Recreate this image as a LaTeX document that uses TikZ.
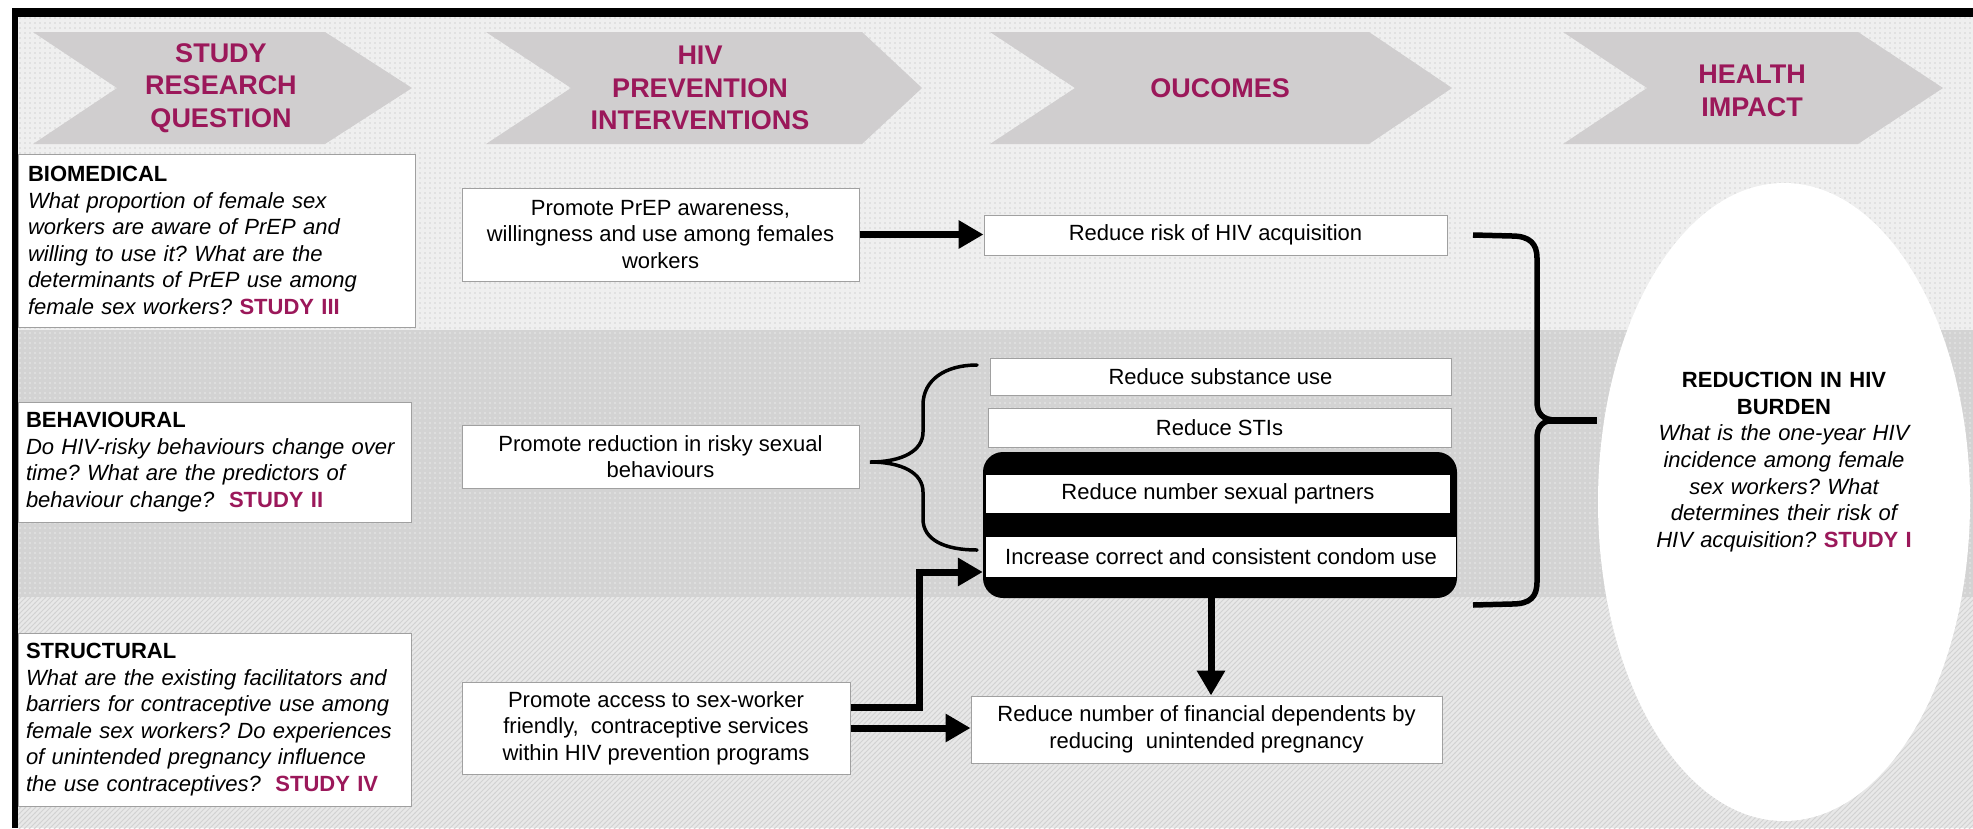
\documentclass[tikz,border=0pt]{standalone}
\usepackage{fontspec}
\setmainfont{Liberation Sans}
\usetikzlibrary{arrows.meta,shapes.geometric,patterns}
\frenchspacing

\definecolor{plum}{RGB}{155,24,90}
\definecolor{chevgray}{RGB}{208,206,207}
\definecolor{boxline}{RGB}{160,160,160}
\definecolor{topbase}{RGB}{239,239,239}
\definecolor{topdot}{RGB}{212,212,212}
\definecolor{midbase}{RGB}{211,211,211}
\definecolor{middot}{RGB}{234,234,234}
\definecolor{lowbase}{RGB}{232,232,232}
\definecolor{lowline}{RGB}{210,210,210}

% background textures
\pgfdeclarepatternformonly{fine dots}{\pgfqpoint{-1pt}{-1pt}}{\pgfqpoint{1pt}{1pt}}{\pgfqpoint{5pt}{5pt}}%
  {\pgfpathcircle{\pgfqpoint{0pt}{0pt}}{0.8pt}\pgfusepath{fill}}
\pgfdeclarepatternformonly{fine hatch}{\pgfqpoint{-1pt}{-1pt}}{\pgfqpoint{6pt}{6pt}}{\pgfqpoint{5pt}{5pt}}%
  {\pgfsetlinewidth{0.9pt}\pgfpathmoveto{\pgfqpoint{-0.5pt}{-0.5pt}}\pgfpathlineto{\pgfqpoint{5.5pt}{5.5pt}}\pgfusepath{stroke}}

\begin{document}
\begin{tikzpicture}[x=1pt,y=-1pt,
  chev/.style={fill=chevgray},
  chevtext/.style={text=plum, font=\fontsize{27}{32.5}\selectfont\bfseries, align=center, inner sep=0pt},
  qbox/.style={draw=boxline, fill=white, line width=1pt, inner sep=0pt, text width=377pt, align=left,
    font=\fontsize{22}{26.6}\selectfont},
  ibox/.style={draw=boxline, fill=white, line width=1pt, inner sep=0pt, align=center,
    font=\fontsize{22}{26.6}\selectfont},
  band/.style={fill=white, inner sep=0pt, font=\fontsize{22}{26.6}\selectfont},
  fat/.style={line width=7pt, -{Triangle[length=25pt,width=27pt]}},
  brace/.style={line width=3.5pt, line cap=round},
  bigbrace/.style={line width=5.5pt}]
\useasboundingbox (0,0) rectangle (1973,828);

% row bands
\fill[topbase] (18,17) rectangle (1973,330);
\fill[pattern=fine dots, pattern color=topdot] (18,17) rectangle (1973,330);
\fill[midbase] (18,330) rectangle (1973,597);
\fill[pattern=fine dots, pattern color=middot] (18,330) rectangle (1973,597);
\fill[lowbase] (18,597) rectangle (1973,828);
\fill[pattern=fine hatch, pattern color=lowline] (18,597) rectangle (1973,828);

% frame
\fill[black] (12,8) rectangle (1973,17);
\fill[black] (12,8) rectangle (18,828);

% column headers
\fill[chev] (33,32) -- (325,32) -- (412,88) -- (325,144) -- (33,144) -- (117,88) -- cycle;
\fill[chev] (486,32) -- (862,32) -- (922,88) -- (862,144) -- (486,144) -- (571,88) -- cycle;
\fill[chev] (990,32) -- (1369,32) -- (1452,88) -- (1369,144) -- (990,144) -- (1075,88) -- cycle;
\fill[chev] (1563,32) -- (1858,32) -- (1943,88) -- (1858,144) -- (1563,144) -- (1647,88) -- cycle;
\node[chevtext] (h1) at (221,88) {STUDY\\RESEARCH\\QUESTION};
\node[chevtext] (h2) at (700,88) {HIV\\PREVENTION\\INTERVENTIONS};
\node[chevtext] (h3) at (1220,88) {OUCOMES};
\node[chevtext] (h4) at (1752,91) {HEALTH\\IMPACT};

% research questions
\node[qbox, minimum width=397, minimum height=173] (bio) at (216.5,240.5)
  {\textbf{BIOMEDICAL}\\\itshape What proportion of female sex\\ workers are aware of PrEP and\\
   willing to use it? What are the\\ determinants of PrEP use among\\
   female sex workers? \textcolor{plum}{\upshape\bfseries STUDY III}};
\node[qbox, minimum width=393, minimum height=120] (beh) at (214.5,462)
  {\textbf{BEHAVIOURAL}\\\itshape Do HIV-risky behaviours change over\\ time? What are the predictors of\\
   behaviour change? \ \textcolor{plum}{\upshape\bfseries STUDY II}};
\node[qbox, minimum width=393, minimum height=173] (str) at (214.5,719.5)
  {\textbf{STRUCTURAL}\\\itshape What are the existing facilitators and\\ barriers for contraceptive use among\\
   female sex workers? Do experiences\\ of unintended pregnancy influence\\
   the use contraceptives? \ \textcolor{plum}{\upshape\bfseries STUDY IV}};

% interventions
\node[ibox, minimum width=397, minimum height=93] (prep) at (660.5,234.5)
  {Promote PrEP awareness,\\willingness and use among females\\workers};
\node[ibox, minimum width=397, minimum height=63] (risky) at (660.5,456.5)
  {Promote reduction in risky sexual\\behaviours};
\node[ibox, minimum width=388, minimum height=92] (sint) at (656,728)
  {Promote access to sex-worker\\friendly, \ contraceptive services\\within HIV prevention programs};

% outcomes
\node[ibox, minimum width=463, minimum height=40] (risk) at (1215.5,235) {Reduce risk of HIV acquisition};
\node[ibox, minimum width=461, minimum height=37] (subst) at (1220.5,376.5) {Reduce substance use};
\node[ibox, minimum width=463, minimum height=39] (sti) at (1219.5,427.5) {Reduce STIs};
\node[fill=black, rounded corners=20pt, minimum width=474, minimum height=146, inner sep=0pt] (blk) at (1220,525) {};
\node[band, minimum width=464, minimum height=38] (partners) at (1218,494) {Reduce number sexual partners};
\node[band, minimum width=470, minimum height=40] (condom) at (1221,557) {Increase correct and consistent condom use};
\node[ibox, minimum width=471, minimum height=67] (fin) at (1206.5,729.5)
  {Reduce number of financial dependents by\\reducing \ unintended pregnancy};

% health impact
\node[ellipse, fill=white, minimum width=372, minimum height=638, inner sep=0pt] (impact) at (1784,502) {};
\node[align=center, text width=290pt, inner sep=0pt, font=\fontsize{22}{26.6}\selectfont] (impacttxt) at (1784,462)
  {\textbf{REDUCTION IN HIV}\\\textbf{BURDEN}\\\itshape What is the one-year HIV\\ incidence among female\\
   sex workers? What\\ determines their risk of\\ HIV acquisition? \textcolor{plum}{\upshape\bfseries STUDY I}};

% connectors
\draw[fat] (prep.east) -- (prep.east -| risk.west);
\coordinate (elbow) at (919,572);
\draw[fat, line join=miter] ([yshift=21pt]sint.east) -| (elbow) -- (elbow -| blk.west);
\draw[fat] (sint.east) -- (sint.east -| fin.west);
\draw[fat] ([xshift=-9pt]blk.south) -- ([xshift=-9pt]blk.south |- fin.north);

% brace gathering the behavioural outcomes
\draw[brace] (977,365) .. controls (945,365) and (923,380) .. (923,405) -- (923,432)
  .. controls (923,451) and (902,462) .. (870,462)
  .. controls (902,462) and (923,473) .. (923,492) -- (923,519)
  .. controls (923,540) and (945,550) .. (977,550);

% brace gathering all outcomes
\draw[bigbrace] (1473,235) -- (1512,236) .. controls (1530,236) and (1537,244) .. (1537,258) -- (1537,402)
  .. controls (1537,414) and (1543,420) .. (1556,420);
\draw[bigbrace] (1556,420) .. controls (1543,420) and (1537,426) .. (1537,438) -- (1537,582)
  .. controls (1537,597) and (1530,604) .. (1512,604) -- (1473,605);
\draw[line width=7pt] (1548,420) -- (1597,420);
\end{tikzpicture}
\end{document}
